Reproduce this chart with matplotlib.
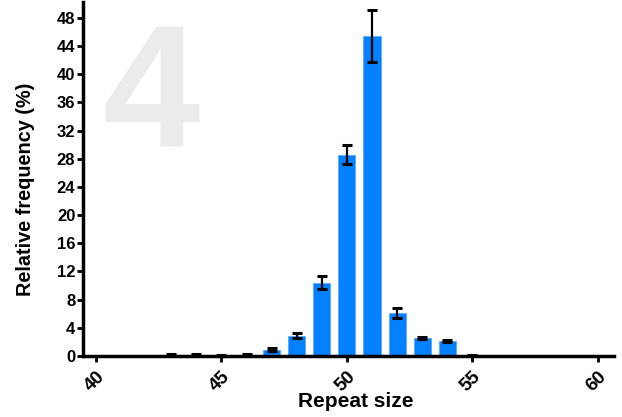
import matplotlib
matplotlib.use("Agg")
import matplotlib.pyplot as plt

repeat_size = [43, 44, 45, 46, 47, 48, 49, 50, 51, 52, 53, 54, 55]
rel_freq = [0.15, 0.15, 0.05, 0.2, 0.9, 2.9, 10.4, 28.6, 45.4, 6.1, 2.5, 2.1, 0.05]
err = [0.1, 0.1, 0.08, 0.15, 0.2, 0.35, 0.9, 1.3, 3.7, 0.7, 0.15, 0.15, 0.08]
x_ticks = [40, 45, 50, 55, 60]
y_ticks = list(range(0, 49, 4))

plt.rcParams['font.family'] = ['Liberation Sans', 'DejaVu Sans']

fig = plt.figure(figsize=(6.22, 4.17), dpi=100)
ax = fig.add_axes([0.1334, 0.1463, 0.8536, 0.8497])

fig.text(0.2436, 0.6475, "4", fontsize=126, fontweight='bold', color='#ebebeb',
         ha='center', va='baseline', zorder=0)

ax.bar(repeat_size, rel_freq, width=0.68, color='#0580ff', edgecolor='#5aa9ff',
       linewidth=0.6, zorder=2)
ax.errorbar(repeat_size, rel_freq, yerr=err, fmt='none', ecolor='black',
            elinewidth=1.6, capsize=3.3, capthick=2.2, zorder=3)

ax.set_xlim(39.48, 60.64)
ax.set_ylim(0, 50.3)
ax.set_xticks(x_ticks)
ax.set_yticks(y_ticks)
ax.set_xticklabels([str(v) for v in x_ticks], rotation=45, ha='right',
                   rotation_mode='anchor', fontsize=13.5, fontweight='bold')
ax.set_yticklabels([str(v) for v in y_ticks], fontsize=12, fontweight='bold')
ax.tick_params(axis='both', width=2, length=4, direction='out', pad=1.5)
ax.tick_params(axis='x', pad=5)

for s in ['top', 'right']:
    ax.spines[s].set_visible(False)
for s in ['left', 'bottom']:
    ax.spines[s].set_linewidth(2.5)

ax.patch.set_alpha(0)
ax.set_xlabel("Repeat size", fontsize=15, fontweight='bold')
ax.xaxis.set_label_coords((356 - 83) / 531, -(407 - 356) / 353, transform=ax.transAxes)
ax.xaxis.label.set_va('baseline')
ax.set_ylabel("Relative frequency (%)", fontsize=14.3, fontweight='bold')
ax.yaxis.set_label_coords(-(83 - 26) / 531, (356 - 190) / 353, transform=ax.transAxes)
ax.yaxis.label.set_va('center')

fig.savefig("out.png", dpi=100)
